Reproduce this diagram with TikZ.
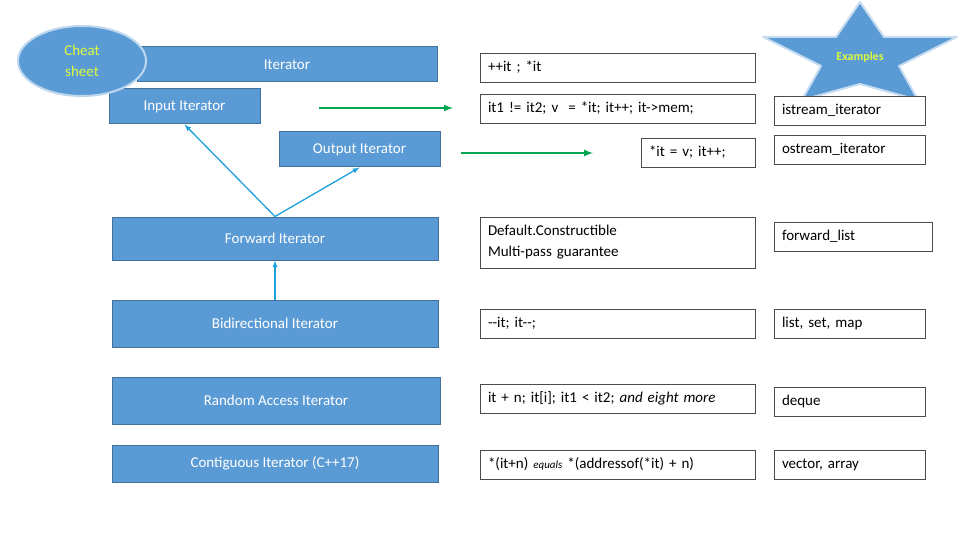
\documentclass[tikz,border=0pt]{standalone}
\usepackage{fontspec}
\setmainfont{Carlito}
\usetikzlibrary{positioning,shapes.geometric}
\definecolor{boxblue}{RGB}{91,155,213}
\definecolor{boxedge}{RGB}{65,113,156}
\definecolor{arrgreen}{RGB}{0,166,81}
\definecolor{arrblue}{RGB}{30,160,220}
\definecolor{hint}{RGB}{220,250,60}

\tikzset{
	kind/.style={draw=boxedge,line width=1pt,fill=boxblue,text=white,font=\fontsize{15}{17}\selectfont,inner sep=0pt},
	oper/.style={draw=black!70,line width=0.6pt,fill=white,font=\fontsize{15}{21}\selectfont,inner xsep=8pt,inner ysep=0pt,align=left},
	refine/.style={->,arrgreen,line width=2pt,>=latex},
	derive/.style={->,arrblue,line width=1.3pt,>=latex}
}

\begin{document}
\begin{tikzpicture}[x=1pt,y=-1pt]

\useasboundingbox (0,0) rectangle (960,540);

% iterator categories
\node [kind,minimum width=300,minimum height=35] (iter) at (287,64.5) {Iterator};
\node [kind,minimum width=151,minimum height=35] (input) at (184.5,106.5) {Input Iterator};
\node [kind,minimum width=161,minimum height=35] (output) at (359.5,149.5) {Output Iterator};
\node [kind,minimum width=326,minimum height=43] (fwd) at (275,238.5) {Forward Iterator};
\node [kind,minimum width=326,minimum height=47] (bidi) at (275,323.5) {Bidirectional Iterator};
\node [kind,minimum width=328,minimum height=47] (rand) at (276,400.5) {Random Access Iterator};
\node [kind,minimum width=326,minimum height=37] (contig) at (275,463.5) {Contiguous Iterator (C++17)};

\node [ellipse,draw=boxblue!40,line width=2pt,fill=boxblue,text=hint,minimum width=128,minimum height=70,align=center,font=\fontsize{15}{21}\selectfont] (cheat) at (82,61) {Cheat\\sheet};

% operations
\node [oper,minimum height=29,text width=259] (opiter) at (617.5,67.5) {++it ; *it};
\node [oper,minimum height=29,text width=259] (opinput) at (617.5,108.5) {it1 != it2; v \ = *it; it++; it->mem;};
\node [oper,minimum height=29,text width=98] (opoutput) at (698,152.5) {*it = v; it++;};
\node [oper,minimum height=51,text width=259] (opfwd) at (617.5,242.5) {Default.Constructible\\Multi-pass guarantee};
\node [oper,minimum height=29,text width=259] (opbidi) at (617.5,323.5) {{-}{-}it; it{-}{-};};
\node [oper,minimum height=29,text width=259] (oprand) at (617.5,398.5) {it + n; it[i]; it1 < it2; \textit{and eight more}};
\node [oper,minimum height=29,text width=259] (opcontig) at (617.5,464.5) {*(it+n) {\fontsize{11}{13}\selectfont\textit{equals}} *(addressof(*it) + n)};

% examples
\draw [boxblue!35,line width=2pt,fill=boxblue,line join=round]
	(860,2) -- (884,37) -- (957,37) -- (899,66) -- (918,100) -- (860,84)
	-- (802,100) -- (821,66) -- (763,37) -- (836,37) -- cycle;
\node [text=hint,font=\bfseries\fontsize{12}{14}\selectfont] (star) at (860,57) {Examples};
\node [oper,minimum height=29,text width=135] (exinput) at (849.5,110.5) {istream\_iterator};
\node [oper,minimum height=29,text width=135] (exoutput) at (849.5,149.5) {ostream\_iterator};
\node [oper,minimum height=29,text width=142] (exfwd) at (853,236.5) {forward\_list};
\node [oper,minimum height=29,text width=135] (exbidi) at (849.5,323.5) {list, set, map};
\node [oper,minimum height=29,text width=135] (exrand) at (849.5,401.5) {deque};
\node [oper,minimum height=29,text width=135] (excontig) at (849.5,464.5) {vector, array};

\coordinate (g1) at (319,108);
\coordinate (g2) at (453,108);
\coordinate (g3) at (461,153);
\coordinate (g4) at (593,153);
\draw [refine] (g1) -- (g2);
\draw [refine] (g3) -- (g4);

\draw [derive] (fwd.north) -- (input.south);
\draw [derive] (fwd.north) -- (output.south);
\draw [derive] (bidi.north) -- (fwd.south);

\end{tikzpicture}
\end{document}
